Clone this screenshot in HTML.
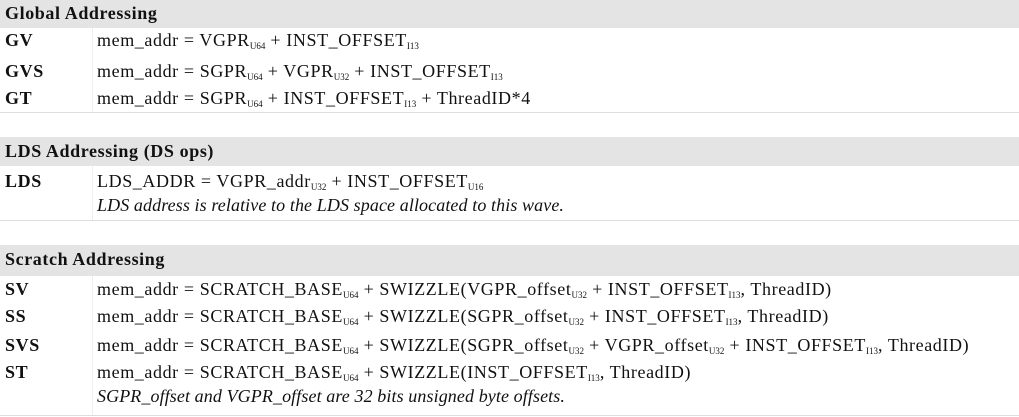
<!DOCTYPE html>
<html><head><meta charset="utf-8"><style>
body{margin:0;width:1019px;height:417px;background:#fff;position:relative;overflow:hidden;font-family:"Liberation Serif","DejaVu Serif",serif;font-size:18px;letter-spacing:0.6px;color:#111}
.h{position:absolute;left:0;width:1019px;background:#e4e4e4;font-weight:bold;padding-left:5px;box-sizing:border-box}
.l{position:absolute;left:5px;font-weight:bold}
.t{position:absolute;left:97px;white-space:nowrap}
.i{font-style:italic;letter-spacing:0.1px}
.hr{position:absolute;left:0;width:1019px;height:1px;background:#ddd}
.v{position:absolute;left:92px;width:1px;background:#eee}
sub{font-size:9px;vertical-align:-3px;line-height:0;letter-spacing:0}
</style></head><body>
<div class="h" style="top:0;height:28px;line-height:26px">Global Addressing</div>
<div class="v" style="top:28px;height:84px"></div>
<div class="l" style="top:30px">GV</div><div class="t" style="top:30px">mem_addr = VGPR<sub>U64</sub> + INST_OFFSET<sub>I13</sub></div>
<div class="l" style="top:61px">GVS</div><div class="t" style="top:61px">mem_addr = SGPR<sub>U64</sub> + VGPR<sub>U32</sub> + INST_OFFSET<sub>I13</sub></div>
<div class="l" style="top:88px">GT</div><div class="t" style="top:88px">mem_addr = SGPR<sub>U64</sub> + INST_OFFSET<sub>I13</sub> + ThreadID*4</div>
<div class="hr" style="top:112px"></div>

<div class="h" style="top:137px;height:29px;line-height:28px">LDS Addressing (DS ops)</div>
<div class="v" style="top:166px;height:54px"></div>
<div class="l" style="top:171px">LDS</div><div class="t" style="top:171px">LDS_ADDR = VGPR_addr<sub>U32</sub> + INST_OFFSET<sub>U16</sub></div>
<div class="t i" style="top:195px">LDS address is relative to the LDS space allocated to this wave.</div>
<div class="hr" style="top:220px"></div>

<div class="h" style="top:245px;height:31px;line-height:29px">Scratch Addressing</div>
<div class="v" style="top:276px;height:139px"></div>
<div class="l" style="top:279px">SV</div><div class="t" style="top:279px">mem_addr = SCRATCH_BASE<sub>U64</sub> + SWIZZLE(VGPR_offset<sub>U32</sub> + INST_OFFSET<sub>I13</sub>, ThreadID)</div>
<div class="l" style="top:306px">SS</div><div class="t" style="top:306px">mem_addr = SCRATCH_BASE<sub>U64</sub> + SWIZZLE(SGPR_offset<sub>U32</sub> + INST_OFFSET<sub>I13</sub>, ThreadID)</div>
<div class="l" style="top:335px">SVS</div><div class="t" style="top:335px">mem_addr = SCRATCH_BASE<sub>U64</sub> + SWIZZLE(SGPR_offset<sub>U32</sub> + VGPR_offset<sub>U32</sub> + INST_OFFSET<sub>I13</sub>, ThreadID)</div>
<div class="l" style="top:362px">ST</div><div class="t" style="top:362px">mem_addr = SCRATCH_BASE<sub>U64</sub> + SWIZZLE(INST_OFFSET<sub>I13</sub>, ThreadID)</div>
<div class="t i" style="top:386px">SGPR_offset and VGPR_offset are 32 bits unsigned byte offsets.</div>
<div class="hr" style="top:415px"></div>
</body></html>
